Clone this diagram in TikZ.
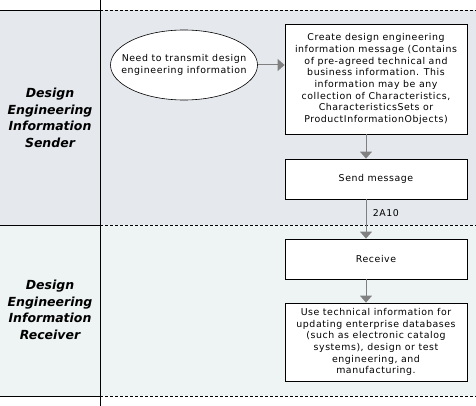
\documentclass[tikz,border=0pt]{standalone}
\usepackage{fontspec}
\setmainfont{DejaVu Sans}
\newfontfamily\boxfont[LetterSpace=6]{DejaVu Sans}
\usetikzlibrary{shapes.geometric,arrows.meta}
\definecolor{senderbg}{HTML}{E5E9EE}
\definecolor{receiverbg}{HTML}{EEF4F4}
\definecolor{flowgray}{HTML}{808080}
\begin{document}
\begin{tikzpicture}[x=1pt,y=-1pt,
  stepbox/.style={draw=black,fill=white,line width=0.8pt,minimum width=182pt,align=center,
    font=\boxfont\fontsize{9.4}{11.7}\selectfont,inner sep=1pt},
  lanelabel/.style={align=center,font=\fontsize{12.5}{16.5}\selectfont\bfseries\itshape},
  flow/.style={draw=flowgray,line width=1pt,-{Triangle[length=7pt,width=12pt]}},
  lanesolid/.style={line width=0.8pt},
  lanedash/.style={line width=0.6pt,dash pattern=on 3pt off 2pt}]
\useasboundingbox (0,0) rectangle (476,406);
\fill[senderbg] (0,10) rectangle (476,225);
\fill[receiverbg] (0,225) rectangle (476,396);
\draw[lanesolid] (0,10) -- (100,10);
\draw[lanesolid] (0,225) -- (100,225);
\draw[lanesolid] (0,396) -- (100,396);
\draw[lanedash] (100,10) -- (476,10);
\draw[lanedash] (100,225) -- (476,225);
\draw[lanedash] (100,396) -- (476,396);
\draw[lanesolid] (100,0) -- (100,406);
\node[lanelabel] (lsend) at (50,118) {Design\\Engineering\\Information\\Sender};
\node[lanelabel] (lrecv) at (50,310) {Design\\Engineering\\Information\\Receiver};
\node[ellipse,draw=black,fill=white,line width=0.6pt,minimum width=147pt,minimum height=70pt,inner sep=0pt] (need) at (184,65) {};
\node[align=center,inner sep=0pt,font=\boxfont\fontsize{9.4}{11.7}\selectfont] (needtext) at (need.center) {Need to transmit design\\engineering information};
\node[stepbox,minimum height=110pt] (create) at (376,79) {Create design engineering\\information message (Contains\\of pre-agreed technical and\\business information. This\\information may be any\\collection of Characteristics,\\CharacteristicsSets or\\ProductInformationObjects)};
\node[stepbox,minimum height=40pt] (send) at (376,179) {Send message};
\node[stepbox,minimum height=40pt] (recv) at (376,259) {Receive};
\node[stepbox,minimum height=78pt] (use) at (376,342) {Use technical information for\\updating enterprise databases\\(such as electronic catalog\\systems), design or test\\engineering, and\\manufacturing.};
\draw[flow] (need) -- (create.west |- need);
\draw[flow] (create.south -| 366,0) -- (send.north -| 366,0);
\draw[flow] (send.south -| 366,0) -- node[right=3pt,pos=0.35,font=\boxfont\fontsize{9.4}{11}\selectfont,text=black] (lbl) {2A10} (recv.north -| 366,0);
\draw[flow] (recv.south -| 366,0) -- (use.north -| 366,0);
\end{tikzpicture}
\end{document}
